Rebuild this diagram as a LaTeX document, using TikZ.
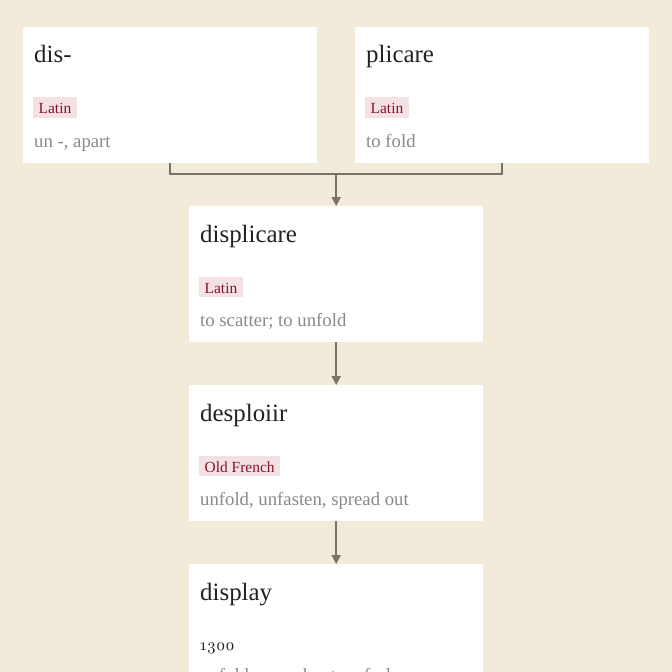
\documentclass[tikz,border=0pt]{standalone}
\usepackage{fontspec}
\setmainfont{Liberation Serif}
\newfontfamily\oldnum{lmroman10-regular.otf}[Numbers=OldStyle]
\usetikzlibrary{arrows.meta}
\definecolor{bgcream}{HTML}{F2EBDA}
\definecolor{titlecol}{HTML}{222222}
\definecolor{tagbg}{HTML}{F4E1E4}
\definecolor{tagfg}{HTML}{7E1530}
\definecolor{glosscol}{HTML}{8A8A8A}
\definecolor{linkcol}{HTML}{7A7264}
\tikzset{
  card/.style={fill=white, draw=none, anchor=north west, minimum width=294bp, minimum height=136bp, inner sep=0pt},
  wordtitle/.style={anchor=base west, inner sep=0pt, text=titlecol, font=\fontsize{25}{25}\selectfont},
  langtag/.style={anchor=north west, fill=tagbg, text=tagfg, inner xsep=5.5bp, inner ysep=0pt, text height=16.5bp, text depth=4bp, font=\fontsize{15.5}{15.5}\selectfont},
  gloss/.style={anchor=base west, inner sep=0pt, text=glosscol, font=\fontsize{18.8}{18.8}\selectfont},
  yeartext/.style={anchor=base west, inner sep=0pt, text=titlecol, font=\oldnum\fontsize{16.5}{16.5}\selectfont},
  link/.style={draw=linkcol, line width=2bp},
  linkarrow/.style={link, -{Triangle[length=9bp,width=9bp]}}
}
\begin{document}
\begin{tikzpicture}[x=1bp,y=-1bp]
\fill[bgcream] (0,0) rectangle (672,672);
\useasboundingbox (0,0) rectangle (672,672);
% cards
\node[card] (dis) at (23,27) {};
\node[card] (plic) at (355,27) {};
\node[card] (displ) at (189,206) {};
\node[card] (desp) at (189,385) {};
\node[card, minimum height=160bp] (disp) at (189,564) {};
% dis-
\node[wordtitle] (t1) at (34,63) {dis-};
\node[langtag] (g1) at (33,97) {Latin};
\node[gloss] (m1) at (34,147) {un -, apart};
% plicare
\node[wordtitle] (t2) at (366,63) {plicare};
\node[langtag] (g2) at (365,97) {Latin};
\node[gloss] (m2) at (366,147) {to fold};
% displicare
\node[wordtitle] (t3) at (200,242) {displicare};
\node[langtag] (g3) at (199,276.5) {Latin};
\node[gloss] (m3) at (200,326) {to scatter; to unfold};
% desploiir
\node[wordtitle] (t4) at (200,421) {desploiir};
\node[langtag] (g4) at (199,455.5) {Old French};
\node[gloss] (m4) at (200,505) {unfold, unfasten, spread out};
% display
\node[wordtitle] (t5) at (200,600) {display};
\node[yeartext] (y5) at (200,650) {1300};
\node[gloss] (m5) at (200,681) {unfold, spread out, unfurl};
% connectors
\path (dis.south) ++(0,11) coordinate (jl);
\draw[link] (dis.south) -- (jl) -| (plic.south);
\coordinate (jm) at (displ.north |- jl);
\draw[linkarrow] (jm) -- (displ.north);
\draw[linkarrow] (displ.south) -- (desp.north);
\draw[linkarrow] (desp.south) -- (disp.north);
\end{tikzpicture}
\end{document}
